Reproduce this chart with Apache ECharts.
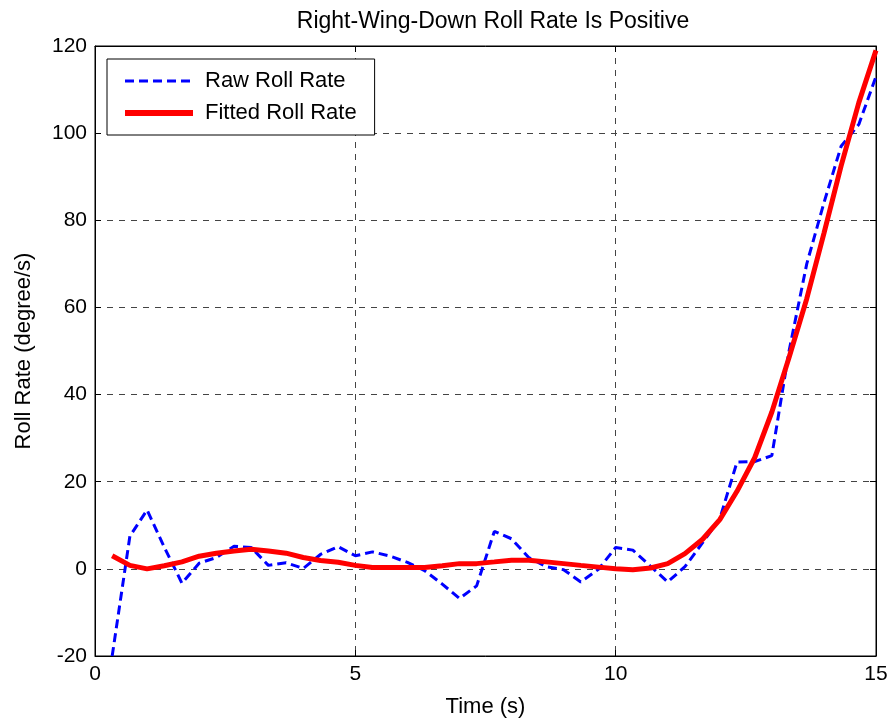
<!DOCTYPE html>
<html>
<head>
<meta charset="UTF-8">
<title>Roll Rate</title>
<script src="https://cdn.jsdelivr.net/npm/echarts@6/dist/echarts.min.js"></script>
<style>
	html, body { margin: 0; padding: 0; background: #fff; }
	#chart { width: 891px; height: 723px; }
</style>
</head>
<body>
<div id="chart"></div>
<script>
// time samples (s)
var timeS = [0.33, 0.67, 1.0, 1.33, 1.67, 2.0, 2.33, 2.67, 3.0, 3.33, 3.67, 4.0, 4.33, 4.67, 5.0,
	5.33, 5.67, 6.0, 6.33, 6.67, 7.0, 7.33, 7.67, 8.0, 8.33, 8.67, 9.0, 9.33, 9.67, 10.0,
	10.33, 10.67, 11.0, 11.33, 11.67, 12.0, 12.33, 12.67, 13.0, 13.33, 13.67, 14.0, 14.33, 14.67, 15.0];
// raw roll rate (degree/s)
var rawRate = [-20, 7.5, 13.5, 5, -3.3, 1.3, 2.6, 5.2, 4.9, 0.8, 1.4, 0.1, 3.3, 5.1, 3.0,
	3.9, 2.9, 1.5, -0.4, -3.5, -6.8, -3.9, 8.6, 6.9, 2.6, 0.5, -0.2, -3.0, -0.1, 4.9,
	4.3, 0.6, -3.0, 0.5, 6, 11.5, 24.5, 24.6, 26, 50, 70, 84, 97, 102, 113];
// fitted roll rate (degree/s)
var fitRate = [3, 0.8, 0, 0.7, 1.6, 2.9, 3.6, 4.1, 4.5, 4.1, 3.6, 2.6, 1.9, 1.5, 0.8,
	0.3, 0.3, 0.3, 0.3, 0.7, 1.2, 1.2, 1.6, 2.0, 2.0, 1.6, 1.2, 0.8, 0.4, 0,
	-0.2, 0.2, 1.2, 3.5, 6.8, 11.3, 17.8, 25.5, 36, 48.5, 62, 77, 92.5, 107, 119];

var seriesNames = ['Raw Roll Rate', 'Fitted Roll Rate'];

function pairs(xs, ys) {
	var out = [];
	for (var i = 0; i < xs.length; i++) out.push([xs[i], ys[i]]);
	return out;
}

var font = 'Liberation Sans, Arial, sans-serif';
var gridLine = { show: true, lineStyle: { color: '#444', type: [6, 6], width: 1 } };
var tick = { inside: true, length: 6, lineStyle: { color: '#000' } };

var chart = echarts.init(document.getElementById('chart'));
chart.setOption({
	animation: false,
	backgroundColor: '#fff',
	title: {
		text: 'Right-Wing-Down Roll Rate Is Positive',
		left: 488, top: 5, textAlign: 'center',
		textStyle: { fontFamily: font, fontSize: 23, fontWeight: 'normal', color: '#000' }
	},
	grid: { left: 95, right: 15, top: 46, bottom: 62, show: true, borderColor: '#000', borderWidth: 1, backgroundColor: '#fff' },
	legend: {
		orient: 'vertical', left: 107, top: 59,
		backgroundColor: '#fff', borderColor: '#000', borderWidth: 1,
		padding: [11, 18, 11, 15], itemGap: 10,
		itemWidth: 68, itemHeight: 14,
		itemStyle: { opacity: 0 },
		textStyle: { fontFamily: font, fontSize: 22, color: '#000', padding: [0, 0, 0, 7] },
		data: [
			{ name: seriesNames[0], lineStyle: { width: 3 } },
			{ name: seriesNames[1], lineStyle: { width: 6 } }
		]
	},
	xAxis: [{
		type: 'value', min: 0, max: 15, interval: 5,
		name: 'Time (s)', nameLocation: 'middle', nameGap: 40,
		nameTextStyle: { fontFamily: font, fontSize: 22, color: '#000' },
		axisLine: { show: true, onZero: false, lineStyle: { color: '#000' } },
		axisTick: tick,
		axisLabel: { fontFamily: font, fontSize: 21, color: '#000', margin: 8 },
		splitLine: gridLine
	}, {
		type: 'value', min: 0, max: 15, interval: 5, position: 'top',
		axisLine: { show: true, onZero: false, lineStyle: { color: '#000' } },
		axisTick: tick,
		axisLabel: { show: false }, splitLine: { show: false }
	}],
	yAxis: [{
		type: 'value', min: -20, max: 120, interval: 20,
		name: 'Roll Rate (degree/s)', nameLocation: 'middle', nameGap: 60, nameRotate: 90,
		nameTextStyle: { fontFamily: font, fontSize: 22, color: '#000' },
		axisLine: { show: true, onZero: false, lineStyle: { color: '#000' } },
		axisTick: tick,
		axisLabel: { fontFamily: font, fontSize: 21, color: '#000', margin: 8 },
		splitLine: gridLine
	}, {
		type: 'value', min: -20, max: 120, interval: 20, position: 'right',
		axisLine: { show: true, onZero: false, lineStyle: { color: '#000' } },
		axisTick: tick,
		axisLabel: { show: false }, splitLine: { show: false }
	}],
	series: [{
		name: seriesNames[0], type: 'line', symbol: 'none',
		data: pairs(timeS, rawRate),
		itemStyle: { color: '#0000ff' },
		lineStyle: { color: '#0000ff', width: 3, type: [9, 5] },
		z: 3
	}, {
		name: seriesNames[1], type: 'line', symbol: 'none',
		data: pairs(timeS, fitRate),
		itemStyle: { color: '#ff0000' },
		lineStyle: { color: '#ff0000', width: 5 },
		z: 4
	}]
});
</script>
</body>
</html>
